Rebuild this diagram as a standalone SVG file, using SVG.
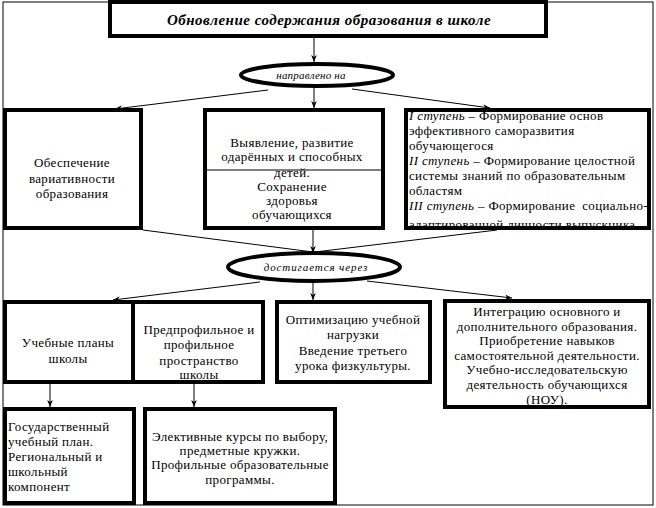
<svg xmlns="http://www.w3.org/2000/svg" width="656" height="508" viewBox="0 0 656 508" font-family="'Liberation Serif', 'DejaVu Serif', serif">
<style>
.box{fill:#fff;stroke:#000;stroke-width:4}
.ell{fill:#fff;stroke:#000;stroke-width:4}
.ln{stroke:#000;stroke-width:1;fill:none}
.t{font-family:'Liberation Serif','DejaVu Serif',serif;font-size:13px;letter-spacing:0.35px;fill:#000}
.c{text-anchor:middle}
.it{font-style:italic}
</style>
<defs>
<marker id="ar" viewBox="0 0 10 10" refX="10" refY="5" markerWidth="7" markerHeight="7" orient="auto" markerUnits="userSpaceOnUse">
<path d="M0,1 L10,5 L0,9 L3,5 z" fill="#000"/>
</marker>
<clipPath id="rclip"><rect x="404" y="108" width="246" height="118"/></clipPath>
</defs>
<rect x="3" y="2" width="650" height="503" fill="#fff" stroke="#000" stroke-width="1"/>
<g id="connectors">
<line class="ln" x1="314" y1="38" x2="314" y2="62" marker-end="url(#ar)"/>
<line class="ln" x1="268" y1="90" x2="115" y2="109" marker-end="url(#ar)"/>
<line class="ln" x1="314" y1="87" x2="314" y2="108" marker-end="url(#ar)"/>
<line class="ln" x1="352" y1="89" x2="490" y2="108" marker-end="url(#ar)"/>
<line class="ln" x1="143" y1="230" x2="313" y2="252"/>
<line class="ln" x1="313" y1="230" x2="313" y2="253" marker-end="url(#ar)"/>
<line class="ln" x1="497" y1="230" x2="315" y2="252"/>
<line class="ln" x1="260" y1="282" x2="113" y2="300" marker-end="url(#ar)"/>
<line class="ln" x1="313" y1="282" x2="313" y2="300" marker-end="url(#ar)"/>
<line class="ln" x1="367" y1="281" x2="512" y2="298" marker-end="url(#ar)"/>
<line class="ln" x1="50" y1="384" x2="50" y2="407" marker-end="url(#ar)"/>
<line class="ln" x1="194" y1="384" x2="194" y2="407" marker-end="url(#ar)"/>
</g>
<g id="title">
<rect class="box" x="110" y="2" width="436" height="34"/>
<text class="t c" x="329" y="25" style="font-size:15px;font-style:italic;font-weight:bold;letter-spacing:0.5px">Обновление содержания образования в школе</text>
</g>
<g id="ell1">
<ellipse class="ell" cx="317" cy="75" rx="76" ry="11"/>
<text class="t c it" x="311" y="79" style="font-size:11px;letter-spacing:0.2px">направлено на</text>
</g>
<g id="left">
<rect class="box" x="5" y="110" width="136" height="118"/>
<text class="t c" x="72" y="167">Обеспечение</text>
<text class="t c" x="72" y="183">вариативности</text>
<text class="t c" x="72" y="198">образования</text>
</g>
<g id="middle">
<rect class="box" x="205" y="110" width="178" height="118"/>
<line class="ln" x1="205" y1="170" x2="383" y2="170"/>
<text class="t c" x="292" y="147">Выявление, развитие</text>
<text class="t c" x="292" y="161">одарённых и способных</text>
<text class="t c" x="292" y="177">детей.</text>
<text class="t c" x="292" y="191">Сохранение</text>
<text class="t c" x="292" y="205">здоровья</text>
<text class="t c" x="292" y="219">обучающихся</text>
</g>
<g id="right">
<g clip-path="url(#rclip)">
<text class="t" x="409" y="120"><tspan class="it">I ступень</tspan> – Формирование основ</text>
<text class="t" x="409" y="135">эффективного саморазвития</text>
<text class="t" x="409" y="150">обучающегося</text>
<text class="t" x="409" y="165"><tspan class="it">II ступень</tspan> – Формирование целостной</text>
<text class="t" x="409" y="180">системы знаний по образовательным</text>
<text class="t" x="409" y="195">областям</text>
<text class="t" x="409" y="210"><tspan class="it">III ступень</tspan> – Формирование</text>
<text class="t" x="648" y="210" text-anchor="end">социально-</text>
<text class="t" x="409" y="229">адаптированной личности выпускника</text>
</g>
<rect class="box" x="406" y="110" width="243" height="118" style="fill:none"/>
</g>
<g id="ell2">
<ellipse class="ell" cx="314" cy="267" rx="86" ry="14"/>
<text class="t c it" x="316" y="271" style="font-size:11px;letter-spacing:0.9px">достигается через</text>
</g>
<g id="plans">
<rect class="box" x="5" y="302" width="128" height="80"/>
<text class="t c" x="68" y="347">Учебные планы</text>
<text class="t c" x="68" y="363">школы</text>
</g>
<g id="profile">
<rect class="box" x="133" y="302" width="130" height="80"/>
<text class="t c" x="199" y="334">Предпрофильное и</text>
<text class="t c" x="199" y="349">профильное</text>
<text class="t c" x="199" y="365">пространство</text>
<text class="t c" x="199" y="379">школы</text>
</g>
<g id="optim">
<rect class="box" x="277" y="302" width="153" height="80"/>
<text class="t c" x="353" y="324">Оптимизацию учебной</text>
<text class="t c" x="353" y="339">нагрузки</text>
<text class="t c" x="353" y="355">Введение третьего</text>
<text class="t c" x="353" y="370">урока физкультуры.</text>
</g>
<g id="integr">
<text class="t c" x="547" y="316">Интеграцию основного и</text>
<text class="t c" x="547" y="331">дополнительного образования.</text>
<text class="t c" x="547" y="345">Приобретение навыков</text>
<text class="t c" x="547" y="360">самостоятельной деятельности.</text>
<text class="t c" x="547" y="374">Учебно-исследовательскую</text>
<text class="t c" x="547" y="389">деятельность обучающихся</text>
<text class="t c" x="547" y="404">(НОУ).</text>
<rect class="box" x="445" y="301" width="204" height="106" style="fill:none"/>
</g>
<g id="state">
<rect class="box" x="5" y="409" width="129" height="94"/>
<text class="t" x="8" y="431">Государственный</text>
<text class="t" x="8" y="446">учебный план.</text>
<text class="t" x="8" y="461">Региональный и</text>
<text class="t" x="8" y="476">школьный</text>
<text class="t" x="8" y="491">компонент</text>
</g>
<g id="elective">
<rect class="box" x="145" y="409" width="190" height="94"/>
<text class="t c" x="240" y="441">Элективные курсы по выбору,</text>
<text class="t c" x="240" y="455">предметные кружки.</text>
<text class="t c" x="240" y="469">Профильные образовательные</text>
<text class="t c" x="240" y="484">программы.</text>
</g>
</svg>
